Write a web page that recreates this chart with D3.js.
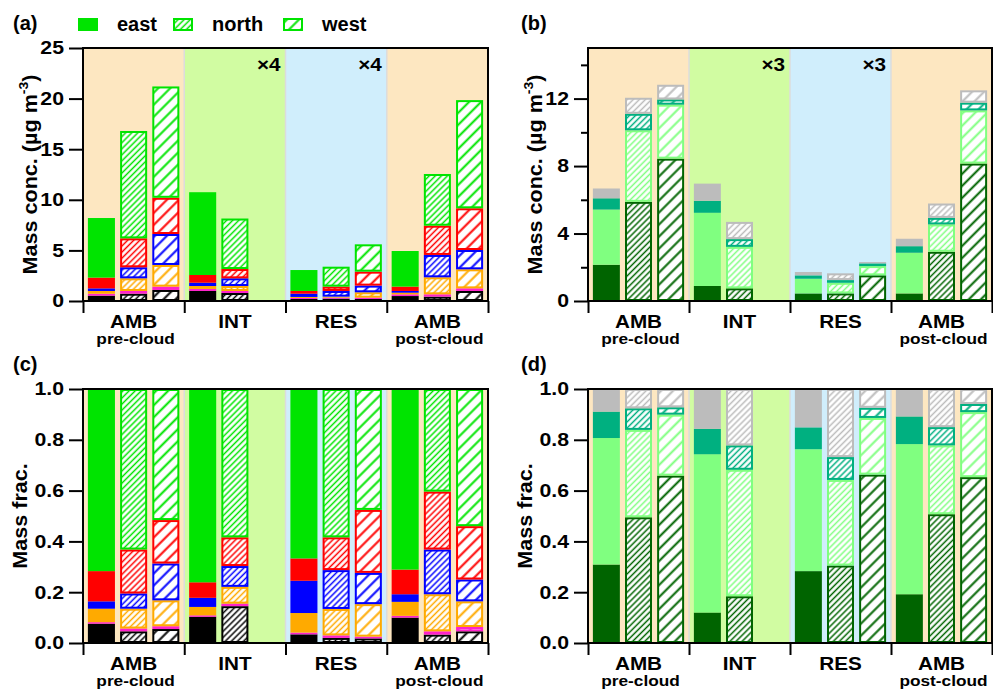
<!DOCTYPE html>
<html>
<head>
<meta charset="utf-8">
<script src="https://cdn.jsdelivr.net/npm/d3@7"></script>
<style>
  body { margin: 0; background: #fff; }
  svg { font-family: "Liberation Sans", Arial, sans-serif; font-weight: bold; }
</style>
</head>
<body>
<div id="chart"></div>
<script>
const groups = ["AMB", "INT", "RES", "AMB"];
const groupSubs = ["pre-cloud", "", "", "post-cloud"];
const sectors = ["east", "north", "west"];
const multA = ["", "×4", "×4", ""];
const multB = ["", "×3", "×3", ""];
const ticksA = [0, 5, 10, 15, 20, 25];
const ticksB = [0, 4, 8, 12];
const minorB = [2, 6, 10, 14];
const ticksFrac = [0, 0.2, 0.4, 0.6, 0.8, 1.0];

// (a) mass conc., bottom to top: BC, Chl, NH4, NO3, SO4, Org  (one row per group)
const concEast = [
  [0.53, 0.19, 0.27, 0.26, 1.06, 5.89],
  [0.99, 0.20, 0.29, 0.33, 0.76, 8.18],
  [0.20, 0.10, 0.10, 0.32, 0.27, 2.07],
  [0.49, 0.17, 0.16, 0.17, 0.43, 3.52],
];
const concNorth = [
  [0.72, 0.27, 1.25, 1.09, 2.86, 10.61],
  [0.79, 0.20, 0.49, 0.76, 0.92, 4.99],
  [0.23, 0.10, 0.10, 0.56, 0.43, 1.97],
  [0.43, 0.23, 1.68, 2.21, 2.89, 5.11],
];
const concWest = [
  [1.09, 0.33, 2.14, 3.06, 3.58, 11.0],
  null,
  [0.20, 0.13, 0.53, 0.66, 1.38, 2.70],
  [0.99, 0.26, 1.88, 1.91, 4.12, 10.69],
];

// (c) mass fractions, same species order
const fracEast = [
  [0.076, 0.006, 0.053, 0.029, 0.119, 0.717],
  [0.103, 0.006, 0.033, 0.036, 0.061, 0.761],
  [0.034, 0.007, 0.077, 0.127, 0.088, 0.667],
  [0.100, 0.007, 0.055, 0.030, 0.097, 0.711],
];
const fracNorth = [
  [0.046, 0.011, 0.078, 0.060, 0.173, 0.632],
  [0.145, 0.010, 0.066, 0.082, 0.113, 0.584],
  [0.020, 0.010, 0.104, 0.153, 0.129, 0.584],
  [0.033, 0.013, 0.146, 0.176, 0.228, 0.404],
];
const fracWest = [
  [0.055, 0.011, 0.102, 0.145, 0.171, 0.516],
  null,
  [0.018, 0.007, 0.128, 0.123, 0.248, 0.476],
  [0.046, 0.017, 0.101, 0.086, 0.210, 0.540],
];

// (b) OA factors mass conc., bottom to top
const oaEast = [
  [2.15, 3.27, 0.67, 0.58],
  [0.89, 4.34, 0.71, 1.02],
  [0.45, 0.87, 0.20, 0.20],
  [0.45, 2.41, 0.39, 0.44],
];
const oaNorth = [
  [5.88, 4.24, 0.98, 0.95],
  [0.75, 2.46, 0.46, 1.02],
  [0.45, 0.63, 0.16, 0.40],
  [2.92, 1.62, 0.39, 0.85],
];
const oaWest = [
  [8.44, 3.20, 0.31, 0.87],
  null,
  [1.52, 0.55, 0.16, 0.08],
  [8.15, 3.15, 0.46, 0.73],
];

// (d) OA factor fractions
const oaFracEast = [
  [0.309, 0.498, 0.104, 0.089],
  [0.120, 0.623, 0.100, 0.157],
  [0.283, 0.480, 0.086, 0.151],
  [0.192, 0.591, 0.109, 0.108],
];
const oaFracNorth = [
  [0.495, 0.344, 0.085, 0.076],
  [0.184, 0.498, 0.096, 0.222],
  [0.305, 0.337, 0.090, 0.268],
  [0.507, 0.271, 0.072, 0.150],
];
const oaFracWest = [
  [0.659, 0.240, 0.029, 0.072],
  null,
  [0.663, 0.223, 0.040, 0.074],
  [0.653, 0.256, 0.032, 0.059],
];

const colorsA = ["#000000", "#ff22cc", "#ffaa00", "#0000ff", "#ff0000", "#00e400"];
const colorsB = ["#006400", "#80ff80", "#00b080", "#bcbcbc"];
const bgColors = ["#fde7c1", "#d1fca2", "#d0eefc", "#fde7c1"];
const hatch = {
  north: { step: 4.3, sw: 1.5 },
  west: { step: 8.5, sw: 2 },
};
// the lettering in the figure is a bit wider than the font
const sx = 1.15;

const width = 993;
const height = 689;
const svg = d3
  .select("#chart")
  .append("svg")
  .attr("width", width)
  .attr("height", height);

// hatch patterns, one per colour and sector
const defs = svg.append("defs");
const patId = (kind, color) => `p-${kind}-${color.slice(1)}`;
[...colorsA, ...colorsB].forEach((c) => {
  Object.keys(hatch).forEach((kind) => {
    const { step, sw } = hatch[kind];
    const p = defs
      .append("pattern")
      .attr("id", patId(kind, c))
      .attr("patternUnits", "userSpaceOnUse")
      .attr("width", step)
      .attr("height", step)
      .attr("patternTransform", "rotate(45)");
    p.append("rect").attr("width", step).attr("height", step).attr("fill", "#fff");
    p.append("line")
      .attr("x1", step / 2)
      .attr("x2", step / 2)
      .attr("y1", 0)
      .attr("y2", step)
      .attr("stroke", c)
      .attr("stroke-width", sw);
  });
});

const drawSeg = (g, kind, color, x, y, w, h) => {
  if (kind === "east" || h < 2.5) {
    g.append("rect")
      .attr("x", x)
      .attr("y", y)
      .attr("width", w)
      .attr("height", Math.max(h, 0))
      .attr("fill", color);
  } else {
    g.append("rect")
      .attr("x", x + 1)
      .attr("y", y + 1)
      .attr("width", w - 2)
      .attr("height", h - 2)
      .attr("fill", `url(#${patId(kind, color)})`)
      .attr("stroke", color)
      .attr("stroke-width", 2);
  }
};

// text placed at (x, y) and widened by sx
const wideText = (g, x, y, size, str, anchor) =>
  g
    .append("text")
    .attr("transform", `translate(${x},${y}) scale(${sx},1)`)
    .attr("text-anchor", anchor || "start")
    .attr("font-size", size)
    .text(str);

const drawPanel = (cfg) => {
  const { x0, x1, y0, y1, domain, series, colors } = cfg;
  const g = svg.append("g");

  const xGroup = d3.scaleBand().domain(d3.range(groups.length)).range([x0, x1]);
  const xInner = d3
    .scaleBand()
    .domain(sectors)
    .range([0, xGroup.bandwidth()])
    .paddingInner(0.16)
    .paddingOuter(0.152);
  const yScale = d3.scaleLinear().domain(domain).range([y1, y0]);

  // background blocks
  g.selectAll(".bg")
    .data(groups)
    .join("rect")
    .attr("x", (d, i) => xGroup(i))
    .attr("y", y0)
    .attr("width", xGroup.bandwidth())
    .attr("height", y1 - y0)
    .attr("fill", (d, i) => bgColors[i]);
  g.selectAll(".sep")
    .data(d3.range(1, groups.length))
    .join("line")
    .attr("x1", (i) => xGroup(i))
    .attr("x2", (i) => xGroup(i))
    .attr("y1", y0)
    .attr("y2", y1)
    .attr("stroke", "#dcdcdc")
    .attr("stroke-width", 1.5);

  // stacked bars
  sectors.forEach((s, si) => {
    series[si].forEach((vals, gi) => {
      if (!vals) return;
      const tops = d3.cumsum(vals);
      vals.forEach((v, k) => {
        const bottom = k === 0 ? 0 : tops[k - 1];
        const yA = yScale(tops[k]);
        const yB = yScale(bottom);
        drawSeg(g, s, colors[k], xGroup(gi) + xInner(s), yA, xInner.bandwidth(), yB - yA);
      });
    });
  });

  // multiplier notes
  if (cfg.mult) {
    cfg.mult.forEach((m, i) => {
      if (m) wideText(g, xGroup(i) + xGroup.bandwidth() - 5, y0 + 23, 18, m, "end");
    });
  }

  // frame
  g.append("rect")
    .attr("x", x0)
    .attr("y", y0)
    .attr("width", x1 - x0)
    .attr("height", y1 - y0)
    .attr("fill", "none")
    .attr("stroke", "#000")
    .attr("stroke-width", 2);

  // y axis
  const yAxis = g
    .append("g")
    .attr("transform", `translate(${x0},0)`)
    .call(
      d3
        .axisLeft(yScale)
        .tickValues(cfg.ticks)
        .tickSize(14)
        .tickPadding(5)
        .tickFormat(cfg.format)
    );
  if (cfg.minor) {
    yAxis.call((ax) =>
      ax
        .append("g")
        .call(d3.axisLeft(yScale).tickValues(cfg.minor).tickSize(7).tickFormat(""))
    );
  }
  yAxis.selectAll(".domain").remove();
  yAxis.selectAll("line").attr("stroke", "#000").attr("stroke-width", 2);
  yAxis
    .selectAll("text")
    .attr("fill", "#000")
    .attr("font-size", 18.5)
    .attr("font-family", "Liberation Sans, Arial, sans-serif")
    .attr("font-weight", "bold")
    .attr("x", -19 / sx)
    .attr("transform", `scale(${sx},1)`);

  // group boundary ticks under the axis
  const xb = d3.scaleLinear().domain([0, groups.length]).range([x0, x1]);
  const xAxis = g
    .append("g")
    .attr("transform", `translate(0,${y1})`)
    .call(d3.axisBottom(xb).tickValues(d3.range(groups.length + 1)).tickSize(12).tickFormat(""));
  xAxis.selectAll(".domain").remove();
  xAxis.selectAll("line").attr("stroke", "#000").attr("stroke-width", 2);

  // category labels
  groups.forEach((name, i) => {
    const cx = xGroup(i) + xGroup.bandwidth() / 2;
    wideText(g, cx, y1 + 26.5, 18, name, "middle");
    if (groupSubs[i]) wideText(g, cx + 2, y1 + 43, 15, groupSubs[i], "middle");
  });

  // panel letter
  g.append("text")
    .attr("x", cfg.letterX)
    .attr("y", y0 - 18)
    .attr("font-size", 20)
    .text(cfg.letter);

  // y title
  const t = g
    .append("text")
    .attr("transform", `translate(${cfg.titleX},${(y0 + y1) / 2}) rotate(-90) scale(1.08,1)`)
    .attr("text-anchor", "middle")
    .attr("font-size", 20);
  if (cfg.conc) {
    t.append("tspan").text("Mass conc. (µg m");
    t.append("tspan").attr("dy", -9).attr("font-size", 13).text("-3");
    t.append("tspan").attr("dy", 9).text(")");
  } else {
    t.text("Mass frac.");
  }
};

drawPanel({
  letter: "(a)", letterX: 13, titleX: 37, conc: true,
  x0: 83, x1: 488, y0: 48, y1: 301, domain: [0, 25],
  series: [concEast, concNorth, concWest], colors: colorsA,
  ticks: ticksA, format: d3.format("d"), mult: multA,
});
drawPanel({
  letter: "(b)", letterX: 521, titleX: 542, conc: true,
  x0: 588, x1: 992, y0: 48, y1: 301, domain: [0, 15],
  series: [oaEast, oaNorth, oaWest], colors: colorsB,
  ticks: ticksB, minor: minorB, format: d3.format("d"), mult: multB,
});
drawPanel({
  letter: "(c)", letterX: 13, titleX: 27,
  x0: 83, x1: 488, y0: 389, y1: 643, domain: [0, 1],
  series: [fracEast, fracNorth, fracWest], colors: colorsA,
  ticks: ticksFrac, format: d3.format(".1f"),
});
drawPanel({
  letter: "(d)", letterX: 521, titleX: 532,
  x0: 588, x1: 992, y0: 389, y1: 643, domain: [0, 1],
  series: [oaFracEast, oaFracNorth, oaFracWest], colors: colorsB,
  ticks: ticksFrac, format: d3.format(".1f"),
});

// legend for the sectors
const legend = svg.append("g");
const legendX = [78, 173, 283];
sectors.forEach((s, i) => {
  drawSeg(legend, s, colorsA[5], legendX[i], 18, 20, 13);
  legend
    .append("text")
    .attr("x", legendX[i] + 39)
    .attr("y", 31)
    .attr("font-size", 20)
    .text(s);
});
</script>
</body>
</html>
